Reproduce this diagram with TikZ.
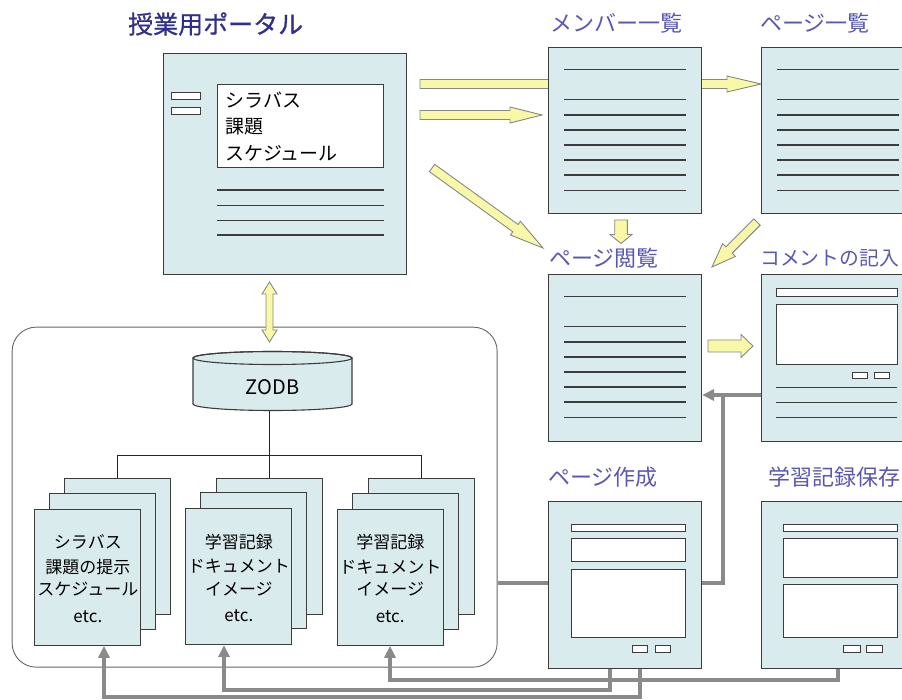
\documentclass[tikz,border=0pt]{standalone}
\usepackage{fontspec}
\setmainfont{Noto Sans CJK JP}
\newfontfamily\titlefont[FakeBold=0.8]{Noto Sans CJK JP}
\usetikzlibrary{calc,arrows.meta}
\definecolor{boxfill}{RGB}{218,235,238}
\definecolor{boxline}{RGB}{60,60,60}
\definecolor{labelblue}{RGB}{88,88,178}
\definecolor{titleblue}{RGB}{48,48,140}
\definecolor{yfill}{RGB}{248,248,168}
\definecolor{ygray}{RGB}{135,135,135}
\definecolor{gline}{RGB}{138,138,138}
\newcommand{\blockarrow}[5]{%
  \coordinate (hb) at ($(#2)!#5!(#1)$);
  \draw[yarrow] ($(#1)!#3!90:(#2)$) -- ($(hb)!#3!90:(#2)$) -- ($(hb)!#4!90:(#2)$) -- (#2)
    -- ($(hb)!#4!-90:(#2)$) -- ($(hb)!#3!-90:(#2)$) -- ($(#1)!#3!-90:(#2)$) -- cycle;}
\newcommand{\dblarrow}[5]{%
  \coordinate (ha) at ($(#1)!#5!(#2)$);
  \coordinate (hb) at ($(#2)!#5!(#1)$);
  \draw[yarrow] (#1) -- ($(ha)!#4!90:(#2)$) -- ($(ha)!#3!90:(#2)$) -- ($(hb)!#3!90:(#2)$)
    -- ($(hb)!#4!90:(#2)$) -- (#2) -- ($(hb)!#4!-90:(#2)$) -- ($(hb)!#3!-90:(#2)$)
    -- ($(ha)!#3!-90:(#2)$) -- ($(ha)!#4!-90:(#2)$) -- cycle;}
\newcommand{\listlines}[1]{%
  \foreach \dy in {22.6,52.6,68,83,98,113,128,143.5}
    \draw[rline] ($(#1.north west)+(16,\dy)$) -- ++(122,0);}
\newcommand{\formrect}[5]{%
  \draw[wbox] ($(#1.north west)+(#2,#3)$) rectangle ($(#1.north west)+(#4,#5)$);}
\newcommand{\docstack}[4]{% name, x, y, dx of back
  \node[pagebox, minimum width=106pt, minimum height=136pt] (#1b) at ({#2+#4},{#3-30.4}) {};
  \node[pagebox, minimum width=106pt, minimum height=136pt] (#1m) at ({#2+15},{#3-16}) {};
  \node[pagebox, minimum width=106pt, minimum height=136pt] (#1) at (#2,#3) {};}
\begin{document}
\begin{tikzpicture}[x=1pt,y=-1pt,
  pagebox/.style={draw=boxline, fill=boxfill, line width=1.1pt, inner sep=0pt, anchor=north west},
  wbox/.style={draw=boxline, fill=white, line width=1pt},
  rline/.style={draw=boxline, line width=1.1pt},
  ylabel/.style={text=labelblue, anchor=west, inner sep=0pt, font=\fontsize{22}{22}\selectfont},
  yarrow/.style={draw=ygray, fill=yfill, line width=0.9pt, line join=miter},
  gconn/.style={draw=gline, line width=3.1pt},
  garrow/.style={gconn, -{Triangle[length=12pt,width=11pt]}},
  tree/.style={draw=black!85, line width=0.8pt},
  doctext/.style={font=\fontsize{17}{17}\selectfont, inner sep=0pt},
  menutext/.style={font=\fontsize{19}{19}\selectfont, inner sep=0pt, anchor=west}]
\useasboundingbox (0,0) rectangle (902,700);
\clip (0,0) rectangle (902,700);

% title and labels
\node[anchor=west, inner sep=0pt, text=titleblue, font=\titlefont\fontsize{25}{25}\selectfont] (title) at (128,24) {授業用ポータル};
\node[ylabel] (lmember) at (550,23) {メンバー一覧};
\node[ylabel] (lplist) at (760,23) {ページ一覧};
\node[ylabel] (lpview) at (549,258) {ページ閲覧};
\node[ylabel, font=\fontsize{19.8}{20}\selectfont] (lcomment) at (760,258) {コメントの記入};
\node[ylabel] (lpcreate) at (548,477) {ページ作成};
\node[ylabel] (llearn) at (768,477) {学習記録保存};

% portal
\node[pagebox, minimum width=243pt, minimum height=221pt] (portal) at (163,53) {};
\node[wbox, anchor=north west, minimum width=166pt, minimum height=83pt, inner sep=0pt] (menu) at (217,84) {};
\node[menutext] (m1) at (225,100) {シラバス};
\node[menutext] (m2) at (225,126.7) {課題};
\node[menutext] (m3) at (225,153.3) {スケジュール};
\draw[wbox] (171,93) rectangle (200,100);
\draw[wbox] (171,107.5) rectangle (200,115);
\foreach \yy in {190,205.7,220.5,235}
  \draw[rline] (217,\yy) -- (384,\yy);

% database container
\node[draw=black!60, line width=0.9pt, rounded corners=24pt, minimum width=485pt, minimum height=340pt, anchor=north west, inner sep=0pt] (db) at (11.7,326.7) {};
\filldraw[draw=boxline, fill=boxfill, line width=1.1pt] (193,358) -- (193,404)
  arc[start angle=180, end angle=360, x radius=79.5pt, y radius=6.5pt] -- (352,358)
  arc[start angle=0, end angle=180, x radius=79.5pt, y radius=6.5pt] -- cycle;
\draw[draw=boxline, line width=1.1pt] (272.5,358) ellipse[x radius=79.5pt, y radius=6.5pt];
\node[minimum width=159pt, minimum height=59pt, inner sep=0pt] (zodb) at (272.5,381) {};
\node[font=\fontsize{20}{20}\selectfont, inner sep=0pt] (zodbtext) at (272.5,387) {ZODB};

\docstack{s1}{34.3}{508.7}{30}
\docstack{s2}{185.3}{508}{31}
\docstack{s3}{336.7}{508.7}{31}
\draw[tree] (zodb.south -| s2b.north) -- (s2b.north);
\draw[tree] (s1b.north) -- ++(0,-23) -| (s3b.north);

\foreach \s/\a/\b/\c in {s1/シラバス/課題の提示/スケジュール, s2/学習記録/ドキュメント/イメージ, s3/学習記録/ドキュメント/イメージ}{
  \node[doctext] at ($(\s.center)+(0,-35)$) {\a};
  \node[doctext] at ($(\s.center)+(0,-10.5)$) {\b};
  \node[doctext] at ($(\s.center)+(0,12)$) {\c};
  \node[doctext] at ($(\s.center)+(0,39)$) {etc.};
}

% yellow block arrows
\coordinate (a1s) at (420,84);   \coordinate (a1e) at (761,84);
\coordinate (a2s) at (420,115);  \coordinate (a2e) at (542,115);
\coordinate (a3s) at (432,168);  \coordinate (a3e) at (543,248);
\coordinate (a4s) at (621,220);  \coordinate (a4e) at (621,243.5);
\coordinate (a5s) at (757,222);  \coordinate (a5e) at (712,267);
\coordinate (a6s) at (708,346);  \coordinate (a6e) at (753,346);
\coordinate (d1s) at (269.5,282); \coordinate (d1e) at (269.5,342);
\blockarrow{a1s}{a1e}{4.5pt}{8pt}{34pt}
\blockarrow{a2s}{a2e}{4.5pt}{8pt}{32pt}
\blockarrow{a3s}{a3e}{4.5pt}{8.5pt}{34pt}
\blockarrow{a4s}{a4e}{6.3pt}{11pt}{9pt}
\blockarrow{a5s}{a5e}{4.5pt}{9pt}{24pt}
\blockarrow{a6s}{a6e}{6pt}{11.5pt}{12pt}
\dblarrow{d1s}{d1e}{3.5pt}{7.5pt}{12pt}

% page boxes
\node[pagebox, minimum width=153pt, minimum height=166pt] (member) at (548,47) {};
\node[pagebox, minimum width=153pt, minimum height=166pt] (plist) at (761,47) {};
\node[pagebox, minimum width=153pt, minimum height=167pt] (pview) at (548,274) {};
\node[pagebox, minimum width=153pt, minimum height=167pt] (comment) at (761,274) {};
\node[pagebox, minimum width=153pt, minimum height=167pt] (pcreate) at (548,501) {};
\node[pagebox, minimum width=153pt, minimum height=167pt] (learn) at (761,501) {};
\listlines{member}
\listlines{plist}
\listlines{pview}
% comment form
\formrect{comment}{15}{15}{136.3}{22.7}
\formrect{comment}{15}{30.3}{136.3}{91}
\formrect{comment}{91}{98.7}{106}{105}
\formrect{comment}{113}{98.7}{128.3}{105}
\foreach \dy in {113.3,128.3,143.3}
  \draw[rline] ($(comment.north west)+(15,\dy)$) -- ++(121.3,0);
% page create form
\formrect{pcreate}{23.7}{23}{137}{30.7}
\formrect{pcreate}{23.7}{37.3}{137}{60}
\formrect{pcreate}{23.7}{68}{137}{136.3}
\formrect{pcreate}{84.7}{144}{99.7}{151}
\formrect{pcreate}{107.7}{144}{122.7}{151}
% learning record form
\formrect{learn}{22.3}{23}{136.3}{30.7}
\formrect{learn}{22.3}{37.3}{136.3}{76.3}
\formrect{learn}{22.3}{83}{136.3}{136.3}
\formrect{learn}{82.3}{144}{99}{151}
\formrect{learn}{105.7}{144}{121.7}{151}

% gray connectors
\coordinate (j1) at (723,395);
\coordinate (j2) at (723,583);
\draw[garrow] (comment.west |- j1) -- (pview.east |- j1);
\draw[gconn] (pcreate.east |- j2) -| (j1);
\draw[gconn] (db.east |- j2) -- (pcreate.west |- j2);
\coordinate (b1) at (104,697);
\coordinate (b2) at (224,690);
\coordinate (b3) at (390,680);
\draw[garrow] ([xshift=77pt]learn.south west) |- (b3) -- (b3 |- s3.south);
\draw[garrow] ([xshift=62pt]pcreate.south west) |- (b2) -- (b2 |- s2.south);
\draw[garrow] ([xshift=92pt]pcreate.south west) |- (b1) -- (b1 |- s1.south);
\end{tikzpicture}
\end{document}
